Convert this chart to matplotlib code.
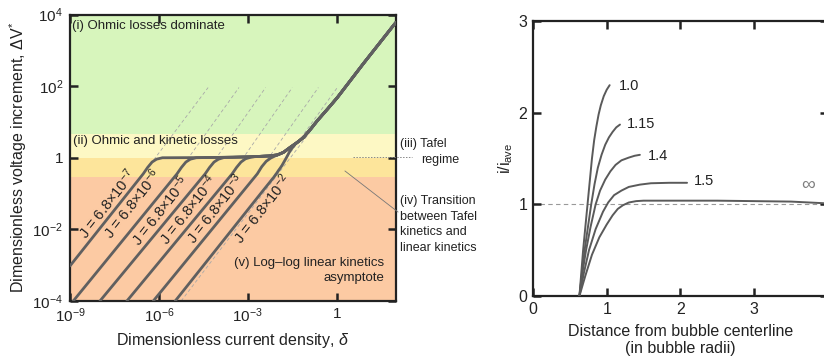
import numpy as np
import matplotlib.pyplot as plt
from matplotlib.lines import Line2D
from matplotlib.ticker import NullLocator

plt.rcParams['font.family'] = ['Liberation Sans', 'DejaVu Sans']
plt.rcParams['mathtext.fontset'] = 'custom'
plt.rcParams['mathtext.rm'] = 'Liberation Sans'
plt.rcParams['mathtext.it'] = 'Liberation Sans:italic'
plt.rcParams['mathtext.bf'] = 'Liberation Sans:bold'

# ---- left panel data (log10 values) ----
J_exp = [-7, -6, -5, -4, -3, -2]
curve_logd = [
    [-9.00, -6.53, -6.38, -6.23, -6.08, -5.88],
    [-8.89, -5.39, -5.24, -5.09, -4.94, -4.74],
    [-7.99, -4.44, -4.29, -4.14, -3.99, -3.79],
    [-7.08, -3.53, -3.38, -3.23, -3.08, -2.88],
    [-6.19, -2.68, -2.53, -2.38, -2.23, -2.08],
    [-5.45, -2.48, -2.10, -1.85, -1.70, -1.57, -1.40],
]
curve_logv = [
    [-3.02, -0.45, -0.27, -0.12, -0.04, 0.00],
    [-4.00, -0.45, -0.27, -0.12, -0.04, 0.00],
    [-4.00, -0.45, -0.27, -0.12, -0.04, 0.01],
    [-4.00, -0.45, -0.27, -0.12, -0.03, 0.02],
    [-4.00, -0.45, -0.25, -0.10, -0.01, 0.05],
    [-4.00, -0.91, -0.52, -0.22, 0.00, 0.20, 0.38],
]
# shared plateau + ohmic branch
upper_logd = [-5.8, -4.5, -3.5, -2.8, -2.3, -2.0, -1.8, -1.57, -1.33, -1.13,
              -0.9, -0.66, -0.3, 0.02, 0.9, 1.91, 2.0]
upper_logv = [0.0, 0.005, 0.015, 0.03, 0.05, 0.08, 0.15, 0.29, 0.43, 0.56,
              0.78, 1.03, 1.37, 1.68, 2.63, 3.69, 3.78]

# dashed asymptotes (start, end)
dash_d0 = [-6.53, -5.39, -4.44, -3.53, -2.68, -2.48, -5.25]
dash_v0 = [-0.45, -0.45, -0.45, -0.45, -0.45, -0.91, -4.00]
dash_d1 = [-4.34, -3.30, -2.40, -1.50, -0.62, 0.02, -0.66]
dash_v1 = [1.96, 1.96, 1.96, 1.96, 1.96, 1.96, 0.98]

lab_logd = [-7.75, -6.91, -5.96, -5.01, -4.10, -2.51]
lab_logv = [-1.28, -1.28, -1.48, -1.45, -1.42, -1.42]

band_lo = [-4.0, -0.53, 0.0, 0.67]
band_hi = [-0.53, 0.0, 0.67, 4.0]
band_col = ['#fccaa3', '#fde59b', '#fdf8c4', '#d7f5bc']

xt_left = [1e-9, 1e-6, 1e-3, 1]
xt_left_lab = ['10$^{-9}$', '10$^{-6}$', '10$^{-3}$', '1']
yt_left = [1e-4, 1e-2, 1, 1e2, 1e4]
yt_left_lab = ['10$^{-4}$', '10$^{-2}$', '1', '10$^{2}$', '10$^{4}$']

# ---- right panel data ----
r_labels = ['1.0', '1.15', '1.4', '1.5', '∞']
r_x = [
    [0.63, 0.655, 0.68, 0.71, 0.74, 0.77, 0.80, 0.83, 0.86, 0.89, 0.92, 0.96,
     1.00, 1.04],
    [0.63, 0.665, 0.70, 0.745, 0.79, 0.835, 0.88, 0.93, 0.98, 1.03, 1.08, 1.13,
     1.18],
    [0.63, 0.67, 0.72, 0.78, 0.85, 0.91, 0.98, 1.05, 1.12, 1.20, 1.30, 1.38,
     1.45],
    [0.63, 0.69, 0.76, 0.85, 0.95, 1.02, 1.10, 1.20, 1.30, 1.45, 1.60, 1.85,
     2.09],
    [0.63, 0.71, 0.80, 0.90, 1.00, 1.08, 1.15, 1.22, 1.30, 1.40, 1.50, 2.50,
     3.50, 4.00],
]
r_y = [
    [0.0, 0.25, 0.5, 0.75, 1.0, 1.25, 1.5, 1.7, 1.85, 1.98, 2.08, 2.18, 2.25,
     2.30],
    [0.0, 0.25, 0.5, 0.75, 1.0, 1.22, 1.4, 1.54, 1.65, 1.73, 1.79, 1.84, 1.87],
    [0.0, 0.25, 0.5, 0.75, 1.0, 1.15, 1.27, 1.36, 1.43, 1.48, 1.51, 1.53, 1.54],
    [0.0, 0.25, 0.5, 0.73, 0.92, 1.02, 1.10, 1.15, 1.19, 1.215, 1.23, 1.235,
     1.235],
    [0.0, 0.22, 0.45, 0.64, 0.78, 0.88, 0.95, 0.99, 1.02, 1.035, 1.04, 1.04,
     1.03, 1.01],
]
r_lab_x = [1.17, 1.28, 1.56, 2.18, 3.64]
r_lab_y = [2.29, 1.88, 1.53, 1.26, 1.21]

W, H = 824, 363
fig = plt.figure(figsize=(W / 100, H / 100), dpi=100)


def px_rect(x0, y0, x1, y1):
    return [x0 / W, 1 - y1 / H, (x1 - x0) / W, (y1 - y0) / H]


def fig_xy(px, py):
    return px / W, 1 - py / H


ax1 = fig.add_axes(px_rect(70, 14.5, 396, 301))
ax2 = fig.add_axes(px_rect(533, 21, 533 + 4 * 73.7, 296))

# ---------------- left panel ----------------
ax1.set_xscale('log')
ax1.set_yscale('log')
ax1.set_xlim(1e-9, 1e2)
ax1.set_ylim(1e-4, 1e4)

for lo, hi, c in zip(band_lo, band_hi, band_col):
    ax1.axhspan(10 ** lo, 10 ** hi, color=c, lw=0, zorder=0)

for k in range(len(dash_d0)):
    ax1.plot(10 ** np.array([dash_d0[k], dash_d1[k]]),
             10 ** np.array([dash_v0[k], dash_v1[k]]),
             ls=(0, (4, 3)), lw=0.6, color='#a8a8a8', zorder=1)

up_d = np.array(upper_logd)
up_v = np.array(upper_logv)
for k in range(len(curve_logd)):
    d = np.array(curve_logd[k])
    v = np.array(curve_logv[k])
    keep = up_d > d[-1]
    d = np.concatenate([d, up_d[keep]])
    v = np.concatenate([v, up_v[keep]])
    ax1.plot(10 ** d, 10 ** v, color='#606060', lw=2.0,
             solid_capstyle='round', solid_joinstyle='round', zorder=3)

for e, ld, lv in zip(J_exp, lab_logd, lab_logv):
    ax1.text(10 ** ld, 10 ** lv, 'J = 6.8×10$^{%d}$' % e, rotation=52,
             rotation_mode='anchor', ha='center', va='center',
             fontsize=10.5, color='#222222', zorder=4)

ax1.set_xticks(xt_left)
ax1.set_xticklabels(xt_left_lab)
ax1.set_yticks(yt_left)
ax1.set_yticklabels(yt_left_lab)
ax1.xaxis.set_minor_locator(NullLocator())
ax1.yaxis.set_minor_locator(NullLocator())
ax1.tick_params(direction='in', top=True, right=True, length=6, width=1.8,
                labelsize=11, colors='#222222')
ax1.tick_params(axis='x', pad=4)
ax1.tick_params(axis='y', pad=5)
for s in ax1.spines.values():
    s.set_linewidth(1.6)
    s.set_color('#222222')

ax1.set_xlabel('Dimensionless current density, $\\delta$', fontsize=11.5,
               color='#222222')
ax1.xaxis.set_label_coords(0.5, -0.105)
ax1.set_ylabel('Dimensionless voltage increment, ΔV$^{*}$', fontsize=11.5,
               color='#222222')
ax1.yaxis.set_label_coords(-0.125, 0.5)

ax1.text(2 / 326, 1 - 12 / 286.5, '(i) Ohmic losses dominate', transform=ax1.transAxes,
         fontsize=9.5, va='center', ha='left', color='#222222')
ax1.text(3 / 326, 1 - 126.5 / 286.5, '(ii) Ohmic and kinetic losses',
         transform=ax1.transAxes, fontsize=9.5, va='center', ha='left', color='#222222')
ax1.text(314 / 326, 1 - 248.5 / 286.5, '(v) Log–log linear kinetics',
         transform=ax1.transAxes, fontsize=9.5, va='center', ha='right', color='#222222')
ax1.text(314 / 326, 1 - 263.5 / 286.5, 'asymptote',
         transform=ax1.transAxes, fontsize=9.5, va='center', ha='right', color='#222222')

# leaders and side notes
x0, y0 = fig_xy(353, 157)
x1, y1 = fig_xy(412, 157)
fig.add_artist(Line2D([x0, x1], [y0, y1], lw=0.7, ls=(0, (1.5, 1.5)),
                      color='#888888'))
x0, y0 = fig_xy(345, 171)
x1, y1 = fig_xy(398, 212)
fig.add_artist(Line2D([x0, x1], [y0, y1], lw=0.6, color='#777777'))

fig.text(*fig_xy(400, 144), '(iii) Tafel', fontsize=9, va='center', color='#222222')
fig.text(*fig_xy(421, 160), 'regime', fontsize=9, va='center', color='#222222')
for i, line in enumerate(['(iv) Transition', 'between Tafel', 'kinetics and',
                          'linear kinetics']):
    fig.text(*fig_xy(400, 201 + 15.6 * i), line, fontsize=9, va='center',
             color='#222222')

# ---------------- right panel ----------------
ax2.set_xlim(0, 4)
ax2.set_ylim(0, 3)
ax2.plot([0.1, 4], [1, 1], ls=(0, (4, 3)), lw=0.8, color='#999999', zorder=1)
for xs, ys in zip(r_x, r_y):
    ax2.plot(xs, ys, color='#5a5a5a', lw=1.4, solid_capstyle='round',
             solid_joinstyle='round', zorder=3)
for lab, lx, ly in zip(r_labels, r_lab_x, r_lab_y):
    ax2.text(lx, ly, lab, fontsize=10.5 if lab != '∞' else 14,
             color='#222222' if lab != '∞' else '#808080',
             ha='left', va='center')

ax2.set_xticks([0, 1, 2, 3, 4])
ax2.set_xticklabels(['0', '1', '2', '3', ''])
ax2.set_yticks([0, 1, 2, 3])
ax2.tick_params(direction='in', top=True, right=True, length=6, width=1.8,
                labelsize=11.5, pad=4, colors='#222222')
for s in ax2.spines.values():
    s.set_linewidth(1.6)
    s.set_color('#222222')
ax2.set_xlabel('Distance from bubble centerline\n(in bubble radii)',
               fontsize=11.5, color='#222222', linespacing=1.25)
ax2.xaxis.set_label_coords(0.5, -0.1)
ax2.set_ylabel('i/i$_{\\mathrm{ave}}$', fontsize=11.5, color='#222222')
ax2.yaxis.set_label_coords(-0.06, 0.5)

fig.savefig('out.png', dpi=100)
